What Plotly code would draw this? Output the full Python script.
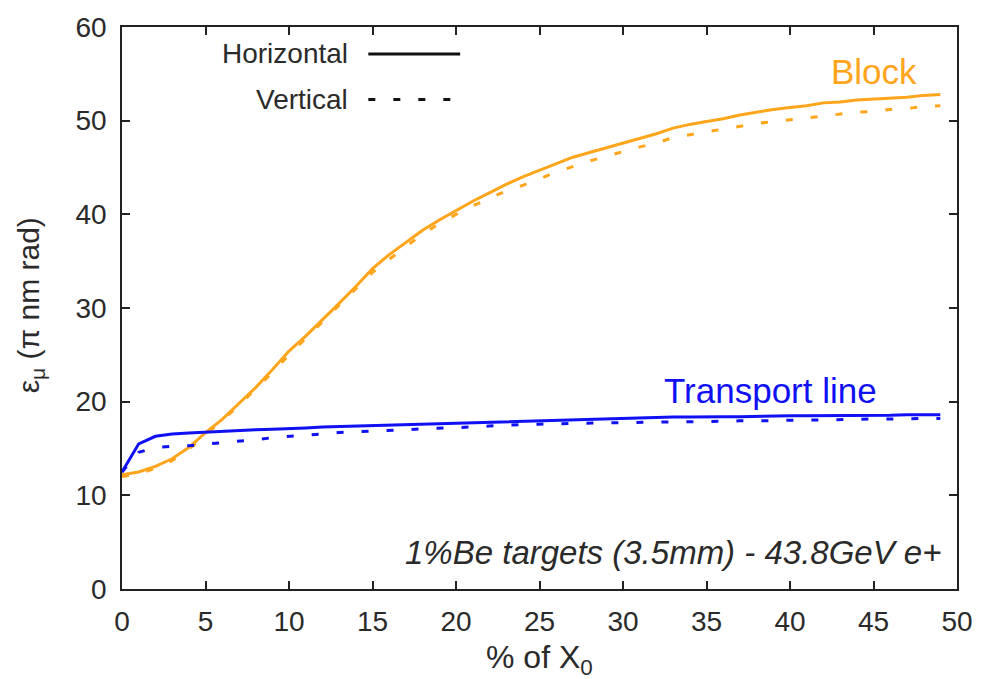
import plotly.graph_objects as go

# Radiation length fraction (% of X0)
x_pct = list(range(0, 50))

# Block emittance, horizontal and vertical (pi nm rad)
block_h = [12.2, 12.5, 13.1, 13.9, 15.1, 16.7, 18.1, 19.8, 21.5, 23.4,
           25.4, 27.0, 28.7, 30.5, 32.3, 34.2, 35.7, 37.0, 38.3, 39.4,
           40.4, 41.4, 42.3, 43.2, 44.0, 44.7, 45.4, 46.1, 46.6, 47.1,
           47.6, 48.1, 48.6, 49.2, 49.6, 49.9, 50.2, 50.6, 50.9, 51.2,
           51.4, 51.6, 51.9, 52.0, 52.2, 52.3, 52.4, 52.5, 52.7, 52.8]
block_v = [12.0, 12.3, 12.9, 13.7, 14.9, 16.4, 18.0, 19.6, 21.3, 23.1,
           25.0, 26.7, 28.5, 30.3, 32.0, 33.8, 35.2, 36.6, 37.9, 39.0,
           40.0, 40.9, 41.7, 42.5, 43.1, 43.8, 44.5, 45.1, 45.7, 46.2,
           46.7, 47.2, 47.6, 48.2, 48.5, 48.8, 49.1, 49.4, 49.7, 49.9,
           50.1, 50.3, 50.5, 50.7, 50.9, 51.0, 51.2, 51.3, 51.5, 51.6]

# Transport line emittance, horizontal and vertical (pi nm rad)
line_h = [12.5, 15.5, 16.3, 16.55, 16.65, 16.75, 16.8, 16.9, 17.0, 17.05,
          17.1, 17.2, 17.3, 17.35, 17.4, 17.5, 17.55, 17.6, 17.65, 17.7,
          17.75, 17.8, 17.85, 17.9, 17.95, 18.0, 18.05, 18.1, 18.15, 18.2,
          18.25, 18.3, 18.3, 18.35, 18.35, 18.4, 18.4, 18.4, 18.45, 18.45,
          18.5, 18.5, 18.5, 18.5, 18.55, 18.55, 18.55, 18.6, 18.6, 18.6]
line_v = [12.5, 14.6, 15.1, 15.25, 15.3, 15.45, 15.6, 15.75, 15.95, 16.15,
          16.3, 16.45, 16.6, 16.7, 16.8, 16.85, 16.95, 17.0, 17.1, 17.15,
          17.2, 17.3, 17.4, 17.5, 17.55, 17.6, 17.65, 17.7, 17.7, 17.75,
          17.75, 17.8, 17.8, 17.85, 17.85, 17.9, 17.9, 17.95, 17.95, 18.0,
          18.0, 18.05, 18.05, 18.1, 18.1, 18.15, 18.15, 18.2, 18.2, 18.2]

x_ticks = [0, 5, 10, 15, 20, 25, 30, 35, 40, 45, 50]
y_ticks = [0, 10, 20, 30, 40, 50, 60]

ORANGE = "#FFA51C"
BLUE = "#1010F5"
TEXT = "#2a2a2a"
DASH = "7px,18px"
FONT = "Liberation Sans, Arial, Helvetica, sans-serif"

fig = go.Figure()
fig.add_trace(go.Scatter(x=x_pct, y=block_v, mode="lines",
                         line=dict(color=ORANGE, width=3, dash=DASH), showlegend=False))
fig.add_trace(go.Scatter(x=x_pct, y=block_h, mode="lines",
                         line=dict(color=ORANGE, width=3), showlegend=False))
fig.add_trace(go.Scatter(x=x_pct, y=line_v, mode="lines",
                         line=dict(color=BLUE, width=3, dash=DASH), showlegend=False))
fig.add_trace(go.Scatter(x=x_pct, y=line_h, mode="lines",
                         line=dict(color=BLUE, width=3), showlegend=False))

axis_common = dict(showline=True, linecolor="#222", linewidth=1.5, mirror="ticks",
                   ticks="inside", ticklen=8, tickwidth=1.5, tickcolor="#222",
                   showgrid=False, zeroline=False,
                   tickfont=dict(family=FONT, size=28, color=TEXT))

fig.update_xaxes(range=[0, 50], tickvals=x_ticks, ticklabelstandoff=7, **axis_common)
fig.update_yaxes(range=[0, 60], tickvals=y_ticks, ticklabelstandoff=8, **axis_common)

annotations = [
    dict(x=0.5, y=-0.125, xref="paper", yref="paper", text="% of X<sub>0</sub>",
         showarrow=False, font=dict(family=FONT, size=32, color=TEXT),
         xanchor="center", yanchor="middle"),
    dict(x=-0.11, y=0.505, xref="paper", yref="paper",
         text="ε<sub>μ</sub> (π nm rad)", textangle=-90,
         showarrow=False, font=dict(family=FONT, size=30, color=TEXT),
         xanchor="center", yanchor="middle"),
    dict(x=47.7, y=55.3, text="Block", showarrow=False, xanchor="right", yanchor="middle",
         font=dict(family=FONT, size=35, color=ORANGE)),
    dict(x=45.3, y=21.2, text="Transport line", showarrow=False, xanchor="right",
         yanchor="middle", font=dict(family=FONT, size=35, color=BLUE)),
    dict(x=49.2, y=3.9, text="<i>1%Be targets (3.5mm) - 43.8GeV e+</i>", showarrow=False,
         xanchor="right", yanchor="middle", font=dict(family=FONT, size=33, color=TEXT)),
    dict(x=0.2735, y=0.952, xref="paper", yref="paper", text="Horizontal", showarrow=False,
         xanchor="right", yanchor="middle", font=dict(family=FONT, size=28, color=TEXT)),
    dict(x=0.2735, y=0.871, xref="paper", yref="paper", text="Vertical", showarrow=False,
         xanchor="right", yanchor="middle", font=dict(family=FONT, size=28, color=TEXT)),
]

shapes = [
    dict(type="line", xref="paper", yref="paper", x0=0.295, x1=0.405, y0=0.952, y1=0.952,
         line=dict(color="#111", width=3)),
    dict(type="line", xref="paper", yref="paper", x0=0.295, x1=0.397, y0=0.871, y1=0.871,
         line=dict(color="#111", width=3, dash=DASH)),
]

fig.update_layout(width=985, height=679, margin=dict(l=122, r=22, t=21, b=90),
                  plot_bgcolor="white", paper_bgcolor="white",
                  annotations=annotations, shapes=shapes)

fig.write_html("out.html")
